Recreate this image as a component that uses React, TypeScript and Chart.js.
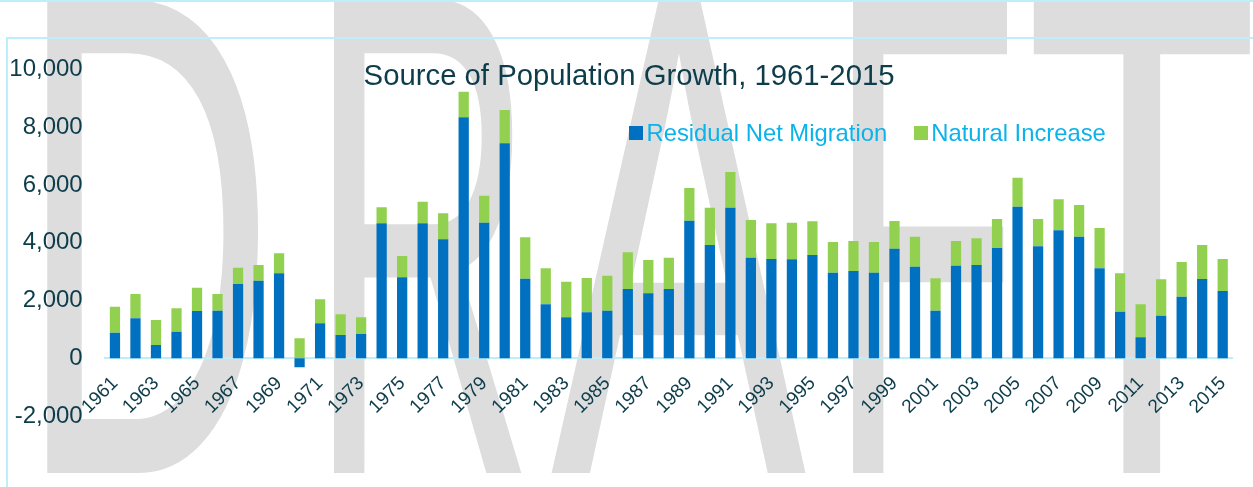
import React, { useEffect, useRef } from "react";
import { Chart, registerables } from "chart.js";

Chart.register(...registerables);

const chartTitle = "Source of Population Growth, 1961-2015";
const watermarkText = "DRAFT";

const years = [
  "1961", "1962", "1963", "1964", "1965", "1966", "1967", "1968", "1969", "1970",
  "1971", "1972", "1973", "1974", "1975", "1976", "1977", "1978", "1979", "1980",
  "1981", "1982", "1983", "1984", "1985", "1986", "1987", "1988", "1989", "1990",
  "1991", "1992", "1993", "1994", "1995", "1996", "1997", "1998", "1999", "2000",
  "2001", "2002", "2003", "2004", "2005", "2006", "2007", "2008", "2009", "2010",
  "2011", "2012", "2013", "2014", "2015",
];

const residualNetMigration = [
  886, 1384, 460, 920, 1637, 1647, 2571, 2685, 2941, -311,
  1211, 806, 841, 4671, 2803, 4671, 4117, 8339, 4692, 7439,
  2754, 1868, 1419, 1592, 1647, 2398, 2249, 2398, 4761, 3920,
  5211, 3481, 3436, 3425, 3574, 2962, 3021, 2962, 3792, 3169,
  1647, 3204, 3228, 3816, 5245, 3875, 4429, 4207, 3114, 1612,
  727, 1474, 2131, 2744, 2329,
];

const naturalIncrease = [
  899, 841, 865, 810, 806, 578, 564, 543, 692, 692,
  830, 716, 577, 554, 737, 749, 900, 885, 934, 1152,
  1433, 1246, 1231, 1186, 1211, 1270, 1152, 1083, 1131, 1291,
  1235, 1304, 1235, 1267, 1166, 1062, 1038, 1062, 959, 1038,
  1121, 855, 924, 1004, 1004, 945, 1072, 1097, 1394, 1329,
  1141, 1259, 1201, 1176, 1107,
];

const seriesNames = ["Residual Net Migration", "Natural Increase"];
const seriesColors = ["#0070C0", "#92D050"];

const yMin = -2000;
const yMax = 10000;
const yStep = 2000;

const FONT = "'Liberation Sans', Arial, Helvetica, sans-serif";
const DARK = "#0D3C4B";
const LEGEND_TEXT = "#0CB2EA";
const FRAME = "#BDEEF9";
const WM = "#DDDDDD";

// watermark letter placement (style only)
const wmLetters = [
  { left: 19, sx: 0.95 },
  { left: 309, sx: 0.84 },
  { left: 552, sx: 1.02 },
  { left: 828, sx: 0.84 },
  { left: 1026, sx: 1.02 },
];

export default function App() {
  const canvasRef = useRef<HTMLCanvasElement | null>(null);

  useEffect(() => {
    const canvas = canvasRef.current;
    if (!canvas) return;
    const chart = new Chart(canvas, {
      type: "bar",
      data: {
        labels: years,
        datasets: [
          {
            label: seriesNames[0],
            data: residualNetMigration,
            backgroundColor: seriesColors[0],
            borderWidth: 0,
            barPercentage: 0.5,
            categoryPercentage: 1,
          },
          {
            label: seriesNames[1],
            data: naturalIncrease,
            backgroundColor: seriesColors[1],
            borderWidth: 0,
            barPercentage: 0.5,
            categoryPercentage: 1,
          },
        ],
      },
      options: {
        animation: false,
        responsive: false,
        maintainAspectRatio: false,
        layout: { padding: { left: 0, right: 20, top: 69.3, bottom: 70.9 } },
        plugins: {
          legend: { display: false },
          title: { display: false },
          tooltip: { enabled: false },
        },
        scales: {
          x: {
            stacked: true,
            position: { y: 0 } as any,
            z: 1,
            grid: { display: false, drawTicks: false },
            border: { display: true, color: FRAME, width: 2 },
            ticks: {
              autoSkip: false,
              maxRotation: 45,
              minRotation: 45,
              padding: 14,
              labelOffset: 0,
              color: DARK,
              font: { family: FONT, size: 19 },
              callback: (_v: any, i: number) => (i % 2 === 0 ? years[i] : ""),
            },
            afterFit: (s: any) => {
              s.height = 0;
            },
          },
          y: {
            stacked: true,
            min: yMin,
            max: yMax,
            grid: { display: false, drawTicks: false },
            border: { display: false },
            ticks: {
              stepSize: yStep,
              padding: 22,
              color: DARK,
              font: { family: FONT, size: 24 },
              callback: (v: any) => Number(v).toLocaleString("en-US"),
            },
            afterFit: (s: any) => {
              s.width = 104.7;
            },
          },
        },
      },
    });
    return () => chart.destroy();
  }, []);

  return (
    <div
      style={{
        position: "fixed",
        left: 0,
        top: 0,
        width: 1253,
        height: 487,
        overflow: "hidden",
        background: "#FFFFFF",
        fontFamily: FONT,
      }}
    >
      {/* watermark */}
      {watermarkText.split("").map((ch, i) => (
        <div
          key={i}
          style={{
            position: "absolute",
            left: wmLetters[i].left,
            top: -108.4,
            fontSize: 372,
            lineHeight: "372px",
            color: WM,
            WebkitTextStroke: `1.5px ${WM}`,
            whiteSpace: "pre",
            transformOrigin: "0 0",
            transform: `scale(${wmLetters[i].sx}, 1.84)`,
            zIndex: 0,
          }}
        >
          {ch}
        </div>
      ))}
      {/* frame lines */}
      <div style={{ position: "absolute", left: 0, top: 0, width: 1253, height: 2, background: FRAME, zIndex: 1 }} />
      <div style={{ position: "absolute", left: 6, top: 37, width: 1247, height: 2, background: FRAME, zIndex: 1 }} />
      <div style={{ position: "absolute", left: 6, top: 37, width: 2, height: 450, background: FRAME, zIndex: 1 }} />
      <canvas
        ref={canvasRef}
        width={1253}
        height={487}
        style={{ position: "absolute", left: 0, top: 0, width: 1253, height: 487, zIndex: 2 }}
      />
      {/* title */}
      <div
        style={{
          position: "absolute",
          left: 363.6,
          top: 60.2,
          fontSize: 29.3,
          lineHeight: "29.3px",
          color: DARK,
          whiteSpace: "nowrap",
          zIndex: 3,
        }}
      >
        {chartTitle}
      </div>
      {/* legend */}
      <div
        style={{
          position: "absolute",
          left: 629,
          top: 120.5,
          display: "flex",
          alignItems: "flex-start",
          zIndex: 3,
        }}
      >
        {seriesNames.map((name, i) => (
          <div key={name} style={{ display: "flex", alignItems: "flex-start", marginRight: i === 0 ? 26.5 : 0 }}>
            <div style={{ width: 14, height: 13.5, background: seriesColors[i], marginTop: 5.5, marginRight: 3.5 }} />
            <div style={{ fontSize: 23.8, lineHeight: "23.8px", color: LEGEND_TEXT, whiteSpace: "nowrap" }}>{name}</div>
          </div>
        ))}
      </div>
    </div>
  );
}
